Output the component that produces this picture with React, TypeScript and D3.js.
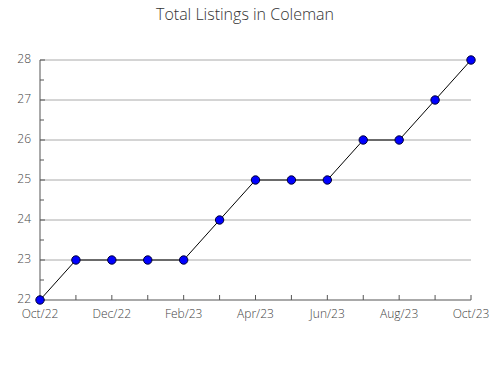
import React from "react";
import * as d3 from "d3";

const months = ["Oct/22","Nov/22","Dec/22","Jan/23","Feb/23","Mar/23","Apr/23","May/23","Jun/23","Jul/23","Aug/23","Sep/23","Oct/23"];
const values = [22,23,23,23,23,24,25,25,25,26,26,27,28];
const yTicks = [22,23,24,25,26,27,28];
const title = "Total Listings in Coleman";

export default function App() {
  const W = 490, H = 380;
  const left = 40, right = 471, top = 60, bottom = 300;
  const x = d3.scaleLinear().domain([0, months.length - 1]).range([left, right]);
  const y = d3.scaleLinear().domain([22, 28]).range([bottom, top]);
  const line = d3.line<number>().x((_, i) => x(i)).y(d => y(d));
  const halfTicks = d3.range(22.5, 28, 1);
  const font = "'Open Sans', 'Noto Sans', sans-serif";
  return (
    <svg width={W} height={H} style={{ position: "absolute", left: 0, top: 0 }} fontFamily={font}>
      <rect width={W} height={H} fill="#fff" />
      <text x={245} y={20} textAnchor="middle" fontSize={16} fill="#333" fontWeight={300}>{title}</text>
      {yTicks.map(t => (
        <g key={t}>
          {t > 22 && <line x1={left} x2={right} y1={y(t)} y2={y(t)} stroke="#aaa" strokeWidth={1} />}
          <line x1={left} x2={left + 5} y1={y(t)} y2={y(t)} stroke="#555" />
          <text x={31} y={y(t) - 1} dy="0.35em" textAnchor="end" fontSize={12} fill="#444" fontWeight={300}>{t}</text>
        </g>
      ))}
      {halfTicks.map(t => (
        <line key={t} x1={left} x2={left + 4} y1={y(t)} y2={y(t)} stroke="#555" />
      ))}
      <line x1={left} x2={left} y1={top} y2={bottom} stroke="#555" />
      <line x1={left} x2={right} y1={bottom} y2={bottom} stroke="#555" />
      {months.map((m, i) => (
        <g key={m}>
          <line x1={x(i)} x2={x(i)} y1={bottom} y2={bottom - 5} stroke="#555" />
          {i % 2 === 0 && (
            <text x={x(i)} y={bottom + 14} dy="0.35em" textAnchor="middle" fontSize={12} fill="#444" fontWeight={300}>{m}</text>
          )}
        </g>
      ))}
      <path d={line(values) || ""} fill="none" stroke="#000" strokeWidth={1} />
      {values.map((v, i) => (
        <circle key={i} cx={x(i)} cy={y(v)} r={4.2} fill="#0000ff" stroke="#000033" strokeWidth={1} />
      ))}
    </svg>
  );
}
